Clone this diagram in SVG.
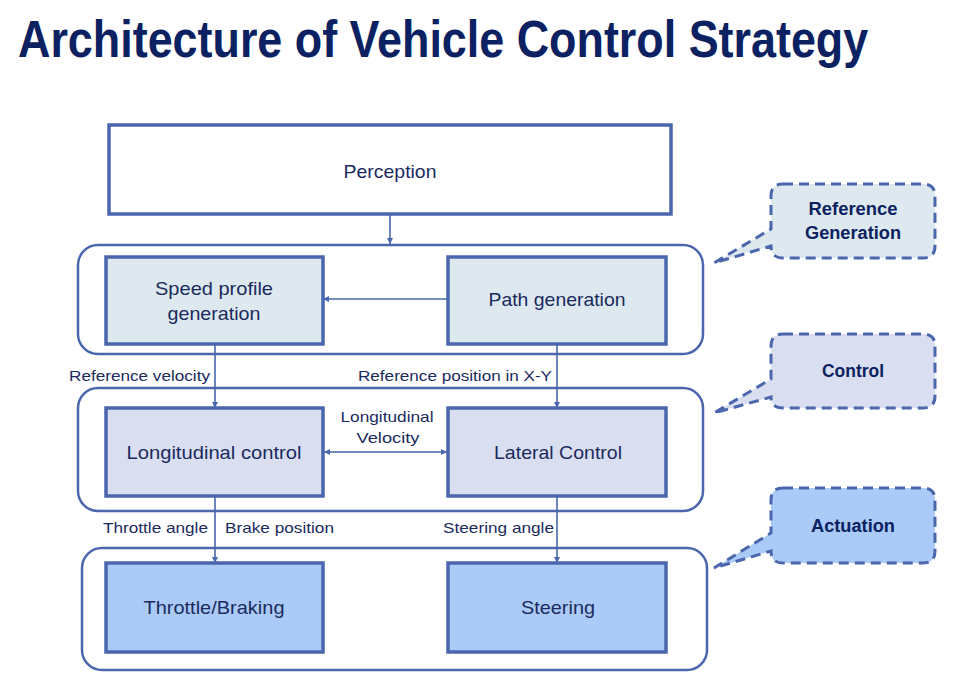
<svg xmlns="http://www.w3.org/2000/svg" width="953" height="700" viewBox="0 0 953 700">
<style>
.title{font-family:"Liberation Sans",Arial,sans-serif;font-weight:bold;font-size:51px;fill:#0b2161}
.grp{fill:#fff;stroke:#4a66ad;stroke-width:2.5}
.box{stroke:#4a66ad;stroke-width:3.5}
.ref{fill:#dde9ee}
.ctl{fill:#d9dff0}
.act{fill:#aacaf7}
.bl{font-family:"Liberation Sans",Arial,sans-serif;font-size:19px;fill:#1b2a5e;text-anchor:middle}
.sl{font-family:"Liberation Sans",Arial,sans-serif;font-size:15px;fill:#1b2a5e}
.cl{font-family:"Liberation Sans",Arial,sans-serif;font-weight:bold;font-size:18px;fill:#0b2161;text-anchor:middle}
.call{stroke:#4a66ad;stroke-width:3;stroke-dasharray:10 6}
.con{stroke:#4a66ad;stroke-width:1.6;fill:none}
</style>
<defs>
<marker id="ah" viewBox="0 0 10 10" refX="10" refY="5" markerWidth="6" markerHeight="6" orient="auto-start-reverse" markerUnits="userSpaceOnUse">
<path d="M0,0 L10,5 L0,10 z" fill="#4a66ad"/>
</marker>
</defs>
<text class="title" transform="translate(18,57) scale(0.78,1)" x="0" y="0" textLength="1090" lengthAdjust="spacingAndGlyphs">Architecture of Vehicle Control Strategy</text>

<g id="group-reference">
<rect class="grp" x="78" y="245" width="625" height="109" rx="20"/>
</g>
<g id="group-control">
<rect class="grp" x="78" y="388" width="625" height="123" rx="20"/>
</g>
<g id="group-actuation">
<rect class="grp" x="82" y="548" width="625" height="122" rx="20"/>
</g>

<g id="perception">
<rect class="box" fill="#fff" x="109" y="125" width="562" height="89"/>
<text class="bl" x="390" y="178" textLength="93" lengthAdjust="spacingAndGlyphs">Perception</text>
</g>
<g id="speed-profile">
<rect class="box ref" x="106" y="257" width="217" height="87"/>
<text class="bl" x="214" y="295" textLength="118" lengthAdjust="spacingAndGlyphs">Speed profile</text>
<text class="bl" x="214" y="320" textLength="93" lengthAdjust="spacingAndGlyphs">generation</text>
</g>
<g id="path-generation">
<rect class="box ref" x="448" y="257" width="218" height="87"/>
<text class="bl" x="557" y="306" textLength="137" lengthAdjust="spacingAndGlyphs">Path generation</text>
</g>
<g id="longitudinal-control">
<rect class="box ctl" x="106" y="408" width="217" height="88"/>
<text class="bl" x="214" y="459" textLength="175" lengthAdjust="spacingAndGlyphs">Longitudinal control</text>
</g>
<g id="lateral-control">
<rect class="box ctl" x="448" y="408" width="218" height="88"/>
<text class="bl" x="558" y="459" textLength="128" lengthAdjust="spacingAndGlyphs">Lateral Control</text>
</g>
<g id="throttle-braking">
<rect class="box act" x="106" y="563" width="217" height="89"/>
<text class="bl" x="214" y="614" textLength="141" lengthAdjust="spacingAndGlyphs">Throttle/Braking</text>
</g>
<g id="steering">
<rect class="box act" x="448" y="563" width="218" height="89"/>
<text class="bl" x="558" y="614" textLength="74" lengthAdjust="spacingAndGlyphs">Steering</text>
</g>

<g id="callout-reference">
<path class="call ref" d="M783,184 H923 Q935,184 935,196 V246 Q935,258 923,258 H783 Q771,258 771,246 L714,263 L771,229 V196 Q771,184 783,184 Z"/>
<text class="cl" x="853" y="215" textLength="89" lengthAdjust="spacingAndGlyphs">Reference</text>
<text class="cl" x="853" y="239" textLength="96" lengthAdjust="spacingAndGlyphs">Generation</text>
</g>
<g id="callout-control">
<path class="call ctl" d="M783,334 H923 Q935,334 935,346 V396 Q935,408 923,408 H783 Q771,408 771,397 L714,413 L771,379 V346 Q771,334 783,334 Z"/>
<text class="cl" x="853" y="377" textLength="62" lengthAdjust="spacingAndGlyphs">Control</text>
</g>
<g id="callout-actuation">
<path class="call act" d="M783,488 H923 Q935,488 935,500 V551 Q935,563 923,563 H783 Q771,563 771,551 L714,568 L771,533 V500 Q771,488 783,488 Z"/>
<text class="cl" x="853" y="532" textLength="84" lengthAdjust="spacingAndGlyphs">Actuation</text>
</g>

<g id="connectors">
<line class="con" x1="390" y1="214" x2="390" y2="244" marker-end="url(#ah)"/>
<line class="con" x1="448" y1="299" x2="323" y2="299" marker-end="url(#ah)"/>
<line class="con" x1="215" y1="344" x2="215" y2="408" marker-end="url(#ah)"/>
<line class="con" x1="557" y1="344" x2="557" y2="408" marker-end="url(#ah)"/>
<line class="con" x1="324" y1="452" x2="447" y2="452" stroke-width="2.2" marker-start="url(#ah)" marker-end="url(#ah)"/>
<line class="con" x1="215" y1="496" x2="215" y2="563" marker-end="url(#ah)"/>
<line class="con" x1="557" y1="496" x2="557" y2="563" marker-end="url(#ah)"/>
<text class="sl" x="69" y="381" textLength="141" lengthAdjust="spacingAndGlyphs">Reference velocity</text>
<text class="sl" x="358" y="381" textLength="194" lengthAdjust="spacingAndGlyphs">Reference position in X-Y</text>
<text class="sl" x="387" y="422" text-anchor="middle" textLength="93" lengthAdjust="spacingAndGlyphs">Longitudinal</text>
<text class="sl" x="388" y="443" text-anchor="middle" textLength="63" lengthAdjust="spacingAndGlyphs">Velocity</text>
<text class="sl" x="103" y="533" textLength="105" lengthAdjust="spacingAndGlyphs">Throttle angle</text>
<text class="sl" x="225" y="533" textLength="109" lengthAdjust="spacingAndGlyphs">Brake position</text>
<text class="sl" x="443" y="533" textLength="111" lengthAdjust="spacingAndGlyphs">Steering angle</text>
</g>
</svg>
